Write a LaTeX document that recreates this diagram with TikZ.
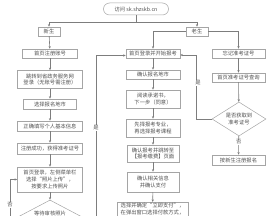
\documentclass[tikz,border=0pt]{standalone}
\usepackage{fontspec}
\setmainfont{Noto Sans CJK SC}
\usetikzlibrary{arrows.meta,shapes.geometric}
\definecolor{lineGray}{RGB}{125,125,125}
\definecolor{boxGray}{RGB}{165,165,165}
\definecolor{textGray}{RGB}{80,80,80}

\begin{document}
\begin{tikzpicture}[x=1pt, y=-1pt,
    box/.style={draw=boxGray, line width=0.5pt, fill=white, text=textGray,
      font=\fontsize{5.3pt}{6.6pt}\selectfont, align=center, inner sep=1pt},
    decision/.style={box, diamond, aspect=1.6, inner sep=0pt},
    lbl/.style={fill=white, text=textGray, font=\fontsize{5.3pt}{6.6pt}\selectfont, inner sep=0.6pt},
    arr/.style={draw=lineGray, line width=0.6pt, -{Stealth[length=2.6pt,width=2.2pt]}}]
  \useasboundingbox (0,0) rectangle (276,216);
  % Entry
  \node[box, rounded corners=6pt, minimum width=65pt, minimum height=12pt] (visit) at (136,9) {访问 sk.shzskb.cn};
  \node[box, minimum width=22pt, minimum height=9pt] (new) at (49,31.5) {新生};
  \node[box, minimum width=22pt, minimum height=9pt] (old) at (197,31.5) {老生};
  % New students
  \node[box, minimum width=55pt, minimum height=9pt] (reg) at (50,53.5) {首页注册账号};
  \node[box, minimum width=65pt, minimum height=18pt] (jump) at (50,79.5) {跳转到省政务服务网\\登录（无账号需注册）};
  \node[box, minimum width=53pt, minimum height=10pt] (city) at (50,104) {选择报名地市};
  \node[box, minimum width=65pt, minimum height=10pt] (info) at (50,126) {正确填写个人基本信息};
  \node[box, minimum width=65pt, minimum height=11pt] (succ) at (50,148.5) {注册成功，获得准考证号};
  \node[box, minimum width=65pt, minimum height=25pt] (photo) at (50,179.5) {首页登录，左侧菜单栏\\选择“照片上传”，\\按要求上传照片};
  \node[decision, minimum width=72pt, minimum height=38pt] (check) at (50,219) {};
  \node[lbl, fill=none] (checktext) at (50,213) {等待审核照片};
  % Registration
  \node[box, minimum width=54pt, minimum height=9pt] (login) at (153,53.5) {首页登录并开始报考};
  \node[box, minimum width=54pt, minimum height=9pt] (ccity) at (153,74.5) {确认报名地市};
  \node[box, minimum width=54pt, minimum height=18pt] (promise) at (153,99) {阅读承诺书，\\下一步（同意）};
  \node[box, minimum width=54pt, minimum height=18pt] (course) at (153,128) {先择报考专业，\\再选择报考课程};
  \node[box, minimum width=52pt, minimum height=17pt] (confirm) at (153,153.5) {确认报考并跳转至\\【报考缴费】页面};
  \node[box, minimum width=52pt, minimum height=20pt] (pay) at (153,182) {确认相关信息\\并确认支付};
  \node[box, anchor=north, minimum width=71pt, text depth=14pt] (paymode) at (152.5,202) {选择并确定“立即支付”，\\在弹出窗口选择付款方式，};
  % Forgotten number
  \node[box, minimum width=53pt, minimum height=9pt] (forget) at (238.5,53.5) {忘记准考证号};
  \node[box, minimum width=53pt, minimum height=9pt] (query) at (238.5,77.5) {首页准考证号查询};
  \node[decision, minimum width=54pt, minimum height=34pt] (found) at (239,119) {是否获取到\\准考证号};
  \node[box, minimum width=53pt, minimum height=10pt] (renew) at (238.5,160) {按新生注册报名};
  % Connectors
  \draw[arr] (visit.south) -- ++(0,7) -| (new.north);
  \draw[arr] (visit.south) -- ++(0,7) -| (old.north);
  \draw[arr] (old.west) -| (login.north);
  \draw[arr] (old.east) -| (forget.north);
  \foreach \a/\b in {new/reg, reg/jump, jump/city, city/info, info/succ, succ/photo, photo/check,
      login/ccity, ccity/promise, promise/course, course/confirm, confirm/pay, pay/paymode,
      forget/query, query/found}
    \draw[arr] (\a) -- (\b);
  \draw[arr] (found) -- (renew) node[lbl, pos=0.3] {否};
  % Loops back
  \coordinate (noL) at (10,230);
  \coordinate (yesL) at (96,230);
  \draw[arr] (noL) |- (photo.west);
  \draw[arr] (yesL) |- ([yshift=-2pt]login.west);
  \draw[arr] (found.west) -- ++(-15,0) |- ([yshift=-1.5pt]login.east);
  \node[lbl] (noLtext) at (10,205) {否};
  \node[lbl] (yesLtext) at (96,128) {是};
  \node[lbl] (yesRtext) at (198,83) {是};
\end{tikzpicture}
\end{document}
